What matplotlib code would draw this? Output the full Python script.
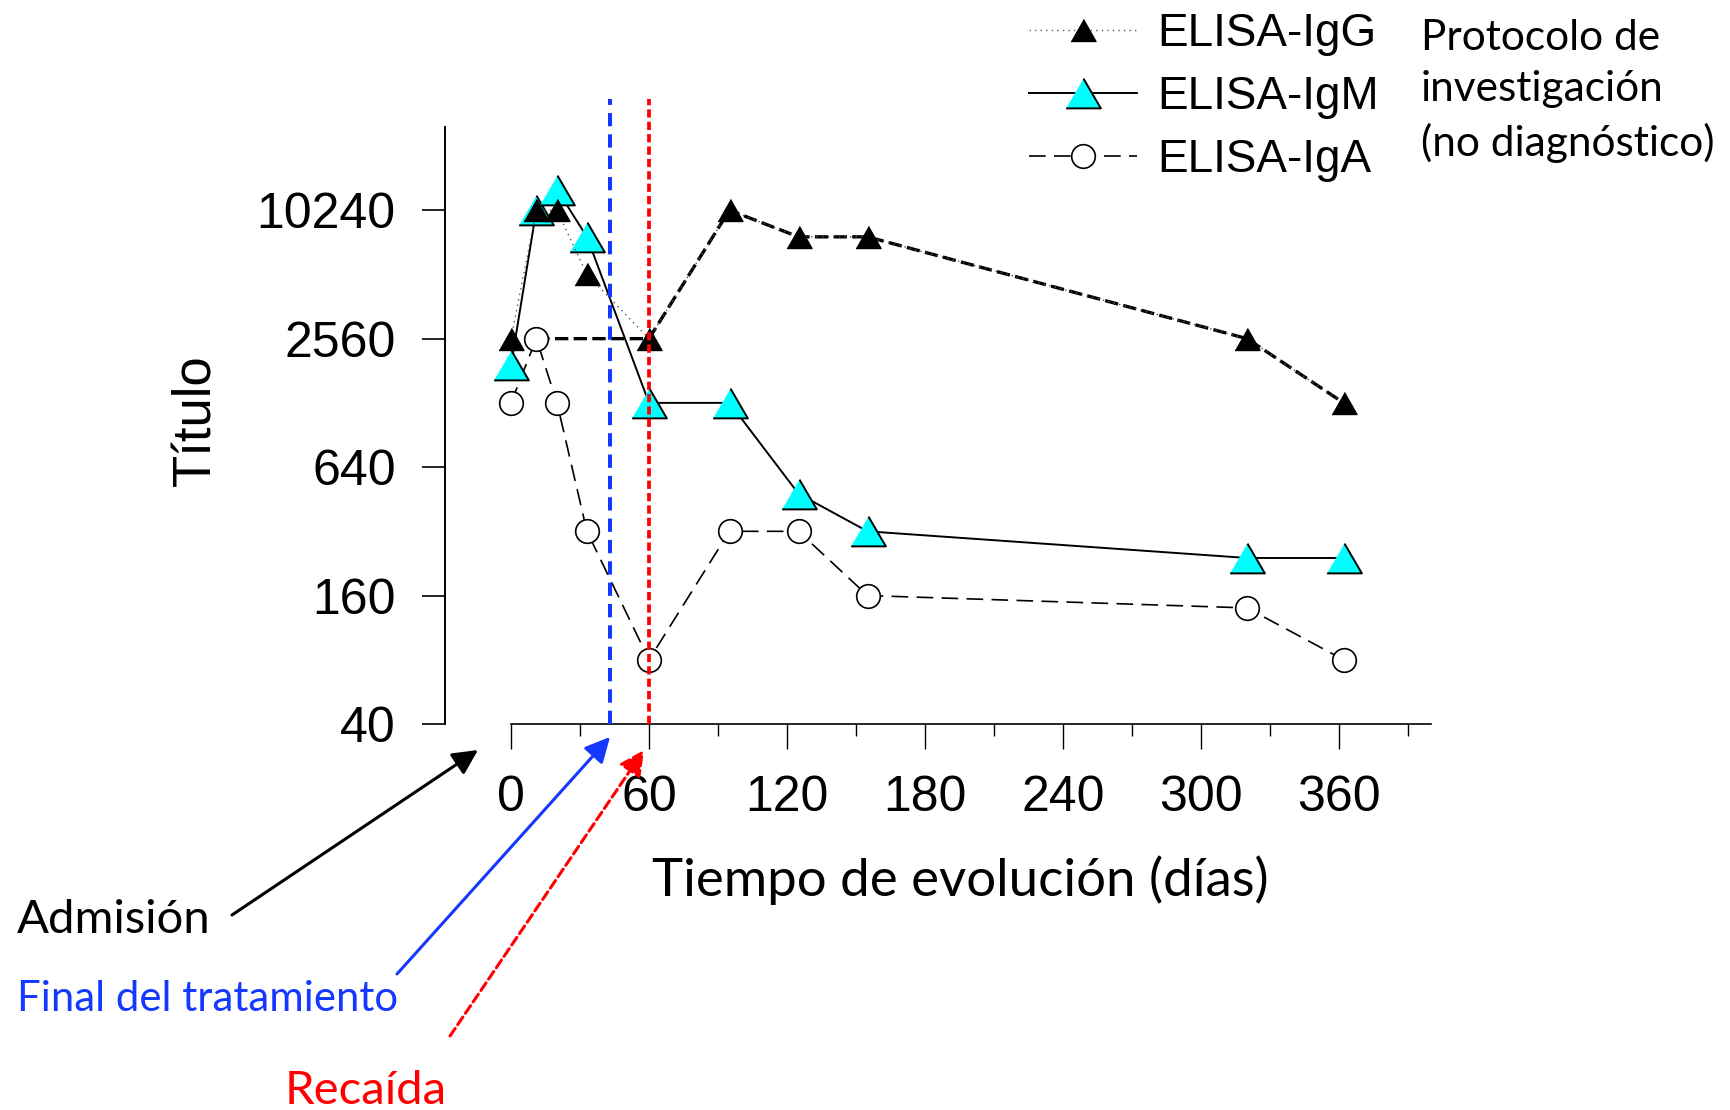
import matplotlib.pyplot as plt
from matplotlib.ticker import NullLocator

# datos (dias de evolucion, titulos ELISA)
dias = [0, 11, 20, 33, 60, 95, 125, 155, 320, 362]
igg = [2560, 10240, 10240, 5120, 2560, 10240, 7680, 7680, 2560, 1280]
igm = [1920, 10240, 12800, 7680, 1280, 1280, 480, 320, 240, 240]
iga = [1280, 2560, 1280, 320, 80, 320, 320, 160, 140, 80]

# linea gruesa discontinua: desde el dia 11 y luego IgG a partir del dia 60
tendencia_dias = [dias[1]] + dias[4:]
tendencia_titulo = [iga[1]] + igg[4:]

fin_tratamiento = 43
recaida = 60

yticks = [40, 160, 640, 2560, 10240]
xticks = [0, 60, 120, 180, 240, 300, 360]
xticks_menores = [30, 90, 150, 210, 270, 330, 390]

W, H = 1731, 1110
plt.rcParams['font.family'] = ['Liberation Sans', 'DejaVu Sans']
CALIBRI = ['Lato', 'DejaVu Sans']
AZUL = '#1438ff'
ROJO = '#ff0000'


def px(x, y):
    # pixel (desde arriba a la izquierda) -> fraccion de figura
    return x / W, 1 - y / H


fig = plt.figure(figsize=(W / 100, H / 100), dpi=100)
ax = fig.add_axes([445 / W, 386 / H, 986 / W, 625 / H])
ax.set_yscale('log')
ax.set_xlim(-28.7, 400)
ax.set_ylim(40, 34000)

tri_m = [(-1, -0.857), (1, -0.857), (0, 0.857)]
tri_g = [(-1, -0.88), (1, -0.88), (0, 0.88)]

ax.plot(tendencia_dias, tendencia_titulo, color='black', lw=2.4,
        linestyle=(0, (4, 1.6)), zorder=2.5)
ax.plot(dias, iga, color='black', lw=1.2, linestyle=(0, (10, 5)),
        marker='o', ms=17, mfc='white', mec='black', mew=1.2,
        zorder=3, label='ELISA-IgA')
ax.plot(dias, igm, color='black', lw=1.4, marker=tri_m, ms=25,
        mfc='#00ffff', mec='black', mew=1.4, zorder=3.5, label='ELISA-IgM')
ax.plot(dias, igg, color='#555555', lw=1.0, linestyle=(0, (1, 3)),
        marker=tri_g, ms=18, mfc='black', mec='black', mew=1.0,
        zorder=4, label='ELISA-IgG')

ax.axvline(fin_tratamiento, color=AZUL, lw=2.9, linestyle=(0, (3.3, 2)), zorder=6)
ax.axvline(recaida, color=ROJO, lw=2.7, linestyle=(0, (2.2, 1.1)), zorder=6)

ax.set_yticks(yticks, labels=[str(v) for v in yticks])
ax.yaxis.set_minor_locator(NullLocator())
ax.set_xticks(xticks, labels=[str(v) for v in xticks])
ax.set_xticks(xticks_menores, minor=True)
ax.tick_params(axis='y', which='major', length=16.5, width=1.2, pad=19, labelsize=36)
ax.tick_params(axis='x', which='major', length=18, width=1.0, pad=19, labelsize=36)
ax.tick_params(axis='x', which='minor', length=8.6, width=1.0)

for s in ['top', 'right']:
    ax.spines[s].set_visible(False)
ax.spines['left'].set_bounds(40, 25000)
ax.spines['bottom'].set_bounds(0, 400)
ax.spines['left'].set_linewidth(1.4)
ax.spines['bottom'].set_linewidth(1.2)

ax.set_xlabel('Tiempo de evolución (días)', family=CALIBRI, fontsize=38, va='center')
ax.xaxis.set_label_coords((960 - 445) / 986, (724 - 880) / 625)
ax.set_ylabel('Título', fontsize=38, va='center')
ax.yaxis.set_label_coords((196 - 445) / 986, (724 - 420) / 625)

handles, labels = ax.get_legend_handles_labels()
ax.legend(handles[::-1], labels[::-1], loc='upper left',
          bbox_to_anchor=px(1029, 12), bbox_transform=fig.transFigure,
          frameon=False, fontsize=33, borderpad=0, borderaxespad=0,
          handlelength=2.35, handletextpad=0.45, labelspacing=0.42)

fig.text(*px(1421, 91), 'Protocolo de\ninvestigación\n(no diagnóstico)',
         family=CALIBRI, fontsize=30.5, ha='left', va='center', linespacing=1.44)

# flechas de eventos
ax.annotate('', xy=px(478, 750), xytext=px(232, 915), xycoords='figure fraction',
            arrowprops=dict(arrowstyle='-|>', color='black', lw=2.2,
                            mutation_scale=38, shrinkA=0, shrinkB=0))
ax.annotate('', xy=px(610, 737), xytext=px(397, 974), xycoords='figure fraction',
            arrowprops=dict(arrowstyle='-|>', color=AZUL, lw=2.2,
                            mutation_scale=38, shrinkA=0, shrinkB=0))
ax.annotate('', xy=px(644, 750), xytext=px(450, 1036), xycoords='figure fraction',
            arrowprops=dict(arrowstyle='-|>', color=ROJO, lw=2.2,
                            linestyle=(0, (3, 1.5)),
                            mutation_scale=38, shrinkA=0, shrinkB=0))

fig.text(*px(17, 920), 'Admisión', family=CALIBRI, fontsize=34,
         ha='left', va='center', color='black')
fig.text(*px(17, 999), 'Final del tratamiento', family=CALIBRI, fontsize=30.2,
         ha='left', va='center', color=AZUL)
fig.text(*px(285, 1091), 'Recaída', family=CALIBRI, fontsize=34,
         ha='left', va='center', color=ROJO)

fig.savefig('out.png', dpi=100)
